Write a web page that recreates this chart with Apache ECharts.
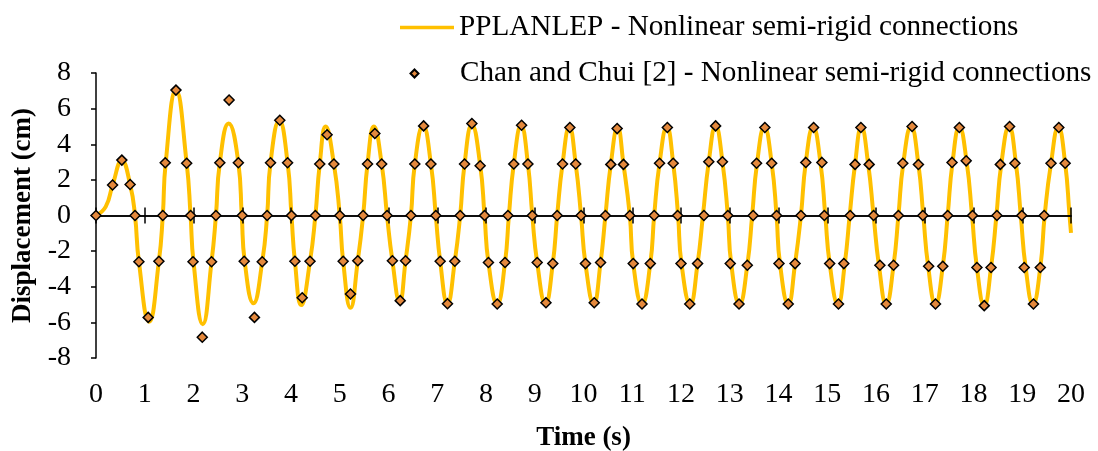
<!DOCTYPE html>
<html>
<head>
<meta charset="utf-8">
<script src="https://cdn.jsdelivr.net/npm/echarts@6/dist/echarts.min.js"></script>
<style>
  html, body { margin: 0; padding: 0; background: #fff; }
  #chart { width: 1098px; height: 451px; }
</style>
</head>
<body>
<div id="chart"></div>
<script>
// PPLANLEP curve, key points (time s, displacement cm)
const lineTime = [0, 0.2, 0.34, 0.53, 0.70, 0.80, 0.88, 1.09, 1.29, 1.37, 1.43, 1.64, 1.86, 1.94, 2.0, 2.19, 2.37, 2.46, 2.54, 2.72, 2.92, 2.99, 3.05, 3.23, 3.41, 3.51, 3.58, 3.76, 3.93, 4.01, 4.08, 4.21, 4.39, 4.50, 4.59, 4.71, 4.88, 5.00, 5.07, 5.22, 5.37, 5.48, 5.57, 5.70, 5.86, 5.97, 6.08, 6.23, 6.35, 6.46, 6.54, 6.71, 6.87, 6.97, 7.06, 7.21, 7.36, 7.47, 7.56, 7.71, 7.88, 7.97, 8.05, 8.23, 8.39, 8.47, 8.57, 8.72, 8.86, 8.95, 9.05, 9.22, 9.37, 9.46, 9.57, 9.71, 9.84, 9.95, 10.04, 10.21, 10.35, 10.45, 10.56, 10.70, 10.82, 10.95, 11.02, 11.20, 11.37, 11.45, 11.56, 11.71, 11.84, 11.94, 12.01, 12.19, 12.34, 12.45, 12.57, 12.71, 12.85, 12.96, 13.03, 13.20, 13.36, 13.46, 13.56, 13.71, 13.86, 13.96, 14.03, 14.20, 14.34, 14.46, 14.56, 14.71, 14.86, 14.96, 15.05, 15.22, 15.36, 15.46, 15.57, 15.70, 15.84, 15.95, 16.06, 16.21, 16.36, 16.46, 16.56, 16.72, 16.87, 16.97, 17.07, 17.22, 17.37, 17.47, 17.57, 17.71, 17.86, 17.97, 18.07, 18.22, 18.36, 18.47, 18.57, 18.73, 18.87, 18.97, 19.07, 19.22, 19.37, 19.46, 19.59, 19.74, 19.88, 19.97, 20.0];
const lineDisp = [0, 0.5, 1.71, 3.08, 1.74, 0, -2.6, -5.96, -2.57, 0, 2.96, 7.04, 2.93, 0, -2.6, -6.1, -2.6, 0, 2.96, 5.16, 2.96, 0, -2.57, -4.93, -2.6, 0, 2.96, 5.33, 2.96, 0, -2.57, -5.03, -2.57, 0, 2.89, 4.99, 2.89, 0, -2.57, -5.18, -2.54, 0, 2.89, 4.99, 2.89, 0, -2.54, -4.84, -2.54, 0, 2.89, 5.05, 2.89, 0, -2.57, -4.95, -2.57, 0, 2.89, 5.1, 2.85, 0, -2.64, -4.97, -2.64, 0, 2.89, 5.05, 2.89, 0, -2.64, -4.95, -2.7, 0, 2.89, 4.97, 2.89, 0, -2.7, -4.95, -2.64, 0, 2.87, 4.95, 2.87, 0, -2.7, -4.98, -2.7, 0, 2.93, 4.97, 2.93, 0, -2.7, -4.98, -2.7, 0, 3.02, 5.03, 3.02, 0, -2.7, -4.98, -2.79, 0, 2.93, 4.97, 2.93, 0, -2.7, -4.98, -2.7, 0, 2.98, 4.97, 2.98, 0, -2.7, -4.98, -2.7, 0, 2.87, 4.97, 2.87, 0, -2.79, -4.98, -2.79, 0, 2.93, 5.0, 2.86, 0, -2.85, -4.98, -2.85, 0, 2.98, 4.97, 3.0, 0, -2.92, -5.06, -2.92, 0, 2.87, 5.0, 2.93, 0, -2.92, -4.98, -2.92, 0, 2.93, 4.97, 2.93, 0, -0.98];

// Chan and Chui [2] points
const chanTime = [0, 0.34, 0.53, 0.70, 0.80, 0.88, 1.07, 1.29, 1.37, 1.42, 1.64, 1.86, 1.94, 1.99, 2.18, 2.37, 2.46, 2.54, 2.73, 2.92, 3.00, 3.04, 3.25, 3.41, 3.51, 3.58, 3.77, 3.93, 4.01, 4.08, 4.23, 4.39, 4.50, 4.59, 4.74, 4.88, 5.00, 5.07, 5.22, 5.37, 5.48, 5.57, 5.72, 5.86, 5.97, 6.08, 6.24, 6.35, 6.46, 6.54, 6.72, 6.87, 6.97, 7.06, 7.21, 7.36, 7.47, 7.56, 7.71, 7.88, 7.97, 8.05, 8.23, 8.39, 8.45, 8.57, 8.73, 8.86, 8.95, 9.05, 9.23, 9.37, 9.46, 9.57, 9.72, 9.84, 9.95, 10.04, 10.22, 10.35, 10.45, 10.56, 10.69, 10.82, 10.95, 11.02, 11.20, 11.37, 11.45, 11.56, 11.72, 11.84, 11.93, 12.00, 12.18, 12.34, 12.47, 12.57, 12.71, 12.85, 12.96, 13.01, 13.19, 13.36, 13.48, 13.55, 13.72, 13.86, 13.96, 14.01, 14.20, 14.34, 14.46, 14.56, 14.72, 14.89, 14.94, 15.05, 15.23, 15.34, 15.47, 15.57, 15.69, 15.86, 15.95, 16.08, 16.21, 16.36, 16.46, 16.55, 16.74, 16.87, 16.96, 17.08, 17.22, 17.37, 17.47, 17.56, 17.71, 17.85, 17.98, 18.07, 18.22, 18.36, 18.48, 18.55, 18.74, 18.85, 18.99, 19.04, 19.23, 19.37, 19.45, 19.59, 19.75, 19.88];
const chanDisp = [0, 1.71, 3.11, 1.74, 0, -2.6, -5.72, -2.57, 0, 2.96, 7.04, 2.93, 0, -2.6, -6.83, -2.6, 0, 2.96, 6.48, 2.96, 0, -2.57, -5.72, -2.6, 0, 2.96, 5.35, 2.96, 0, -2.57, -4.62, -2.57, 0, 2.89, 4.53, 2.89, 0, -2.57, -4.41, -2.54, 0, 2.89, 4.6, 2.89, 0, -2.54, -4.78, -2.54, 0, 2.89, 5.03, 2.89, 0, -2.57, -4.95, -2.57, 0, 2.89, 5.16, 2.79, 0, -2.64, -4.97, -2.64, 0, 2.89, 5.07, 2.89, 0, -2.64, -4.9, -2.7, 0, 2.89, 4.94, 2.89, 0, -2.7, -4.9, -2.64, 0, 2.87, 4.88, 2.87, 0, -2.7, -4.97, -2.7, 0, 2.93, 4.94, 2.93, 0, -2.7, -4.97, -2.7, 0, 3.02, 5.03, 3.02, 0, -2.7, -4.97, -2.79, 0, 2.93, 4.94, 2.93, 0, -2.7, -4.97, -2.7, 0, 2.98, 4.94, 2.98, 0, -2.7, -4.97, -2.7, 0, 2.87, 4.94, 2.87, 0, -2.79, -4.97, -2.79, 0, 2.93, 5.0, 2.86, 0, -2.85, -4.97, -2.85, 0, 2.98, 4.94, 3.07, 0, -2.92, -5.06, -2.92, 0, 2.87, 5.0, 2.93, 0, -2.92, -4.97, -2.92, 0, 2.93, 4.94, 2.93];

const lineName = 'PPLANLEP - Nonlinear semi-rigid connections'
const chanName = 'Chan and Chui [2] - Nonlinear semi-rigid connections'

const font = 'Liberation Serif'

const chart = echarts.init(document.getElementById('chart'), null, { renderer: 'canvas' })

const zeroAxis = (inside) => ({
  type: 'value', min: 0, max: 20, interval: 1, position: 'bottom', z: 3,
  axisLine: { onZero: true, onZeroAxisIndex: 0, lineStyle: { color: '#000', width: 1.5 } },
  axisTick: { inside, length: 8, lineStyle: { color: '#000', width: 1.5 } },
  axisLabel: { show: false },
  splitLine: { show: false },
})

const legendText = { fontFamily: font, fontSize: 29.2, color: '#000' }

chart.setOption({
  animation: false,
  backgroundColor: '#fff',
  textStyle: { fontFamily: font, color: '#000' },
  grid: { left: 96, right: 27, top: 73, bottom: 93, outerBoundsMode: 'none' },
  legend: [
    {
      data: [{ name: lineName, icon: 'rect' }],
      left: 395, top: 8, itemWidth: 54, itemHeight: 3.5,
      textStyle: legendText,
    },
    {
      data: [{ name: chanName, icon: 'path://M0,4L0,4 M9.5,4L13.5,0L17.5,4L13.5,8Z M54,4L54,4' }],
      left: 395, top: 54, itemWidth: 54, itemHeight: 8,
      textStyle: legendText,
    },
  ],
  xAxis: [
    {
      type: 'value', min: 0, max: 20, interval: 1, position: 'bottom',
      axisLine: { show: false, onZero: false },
      axisTick: { show: false },
      axisLabel: { fontFamily: font, fontSize: 28, color: '#000', margin: 23 },
      splitLine: { show: false },
      name: 'Time (s)', nameLocation: 'middle', nameGap: 67,
      nameTextStyle: { fontFamily: font, fontSize: 27, fontWeight: 'bold', color: '#000' },
    },
    zeroAxis(false),
    zeroAxis(true),
  ],
  yAxis: {
    type: 'value', min: -8, max: 8, interval: 2,
    axisLine: { show: true, onZero: false, lineStyle: { color: '#000', width: 1.5 } },
    axisTick: { show: true, length: 5, lineStyle: { color: '#000', width: 1.5 } },
    axisLabel: { fontFamily: font, fontSize: 28, color: '#000', margin: 25 },
    splitLine: { show: false },
    name: 'Displacement (cm)', nameLocation: 'middle', nameGap: 57,
    nameTextStyle: { fontFamily: font, fontSize: 27, fontWeight: 'bold', color: '#000' },
  },
  series: [
    {
      name: lineName, type: 'line', xAxisIndex: 0,
      data: lineTime.map((t, i) => [t, lineDisp[i]]),
      showSymbol: false, symbol: 'none', smooth: 0.5,
      lineStyle: { color: '#FFC000', width: 4 },
      itemStyle: { color: '#FFC000' },
      z: 2,
    },
    {
      name: chanName, type: 'scatter', xAxisIndex: 0,
      data: chanTime.map((t, i) => [t, chanDisp[i]]),
      symbol: 'diamond', symbolSize: 10,
      itemStyle: { color: '#E4893D', borderColor: '#000', borderWidth: 1.5, opacity: 1 },
      z: 4,
    },
  ],
})
</script>
</body>
</html>
